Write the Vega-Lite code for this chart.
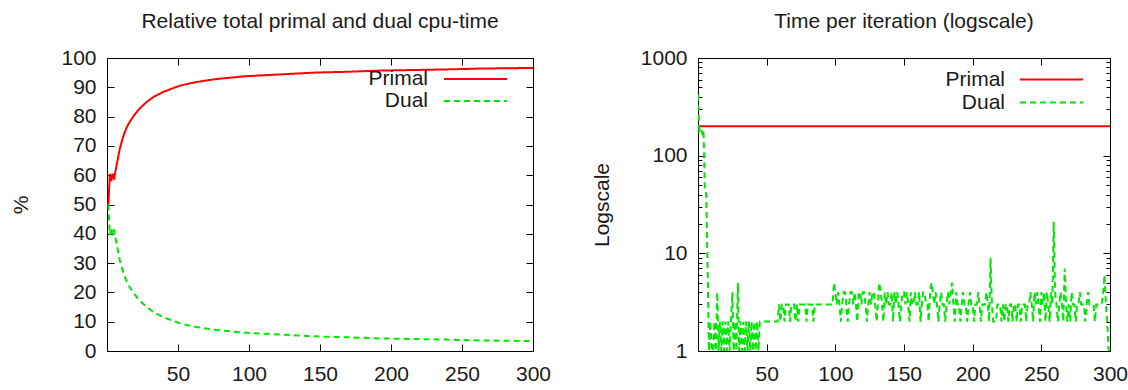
{
  "$schema": "https://vega.github.io/schema/vega-lite/v6.json",
  "background": "white",
  "padding": {"left": 10, "top": 10, "right": 0, "bottom": 0},
  "spacing": 38,
  "datasets": {
    "pct": [
      {"i":1,"primal":50,"dual":50},{"i":2,"primal":60.5,"dual":39.5},{"i":3,"primal":58,"dual":42},{"i":4,"primal":60.5,"dual":39.5},
      {"i":5,"primal":58.5,"dual":41.5},{"i":6,"primal":61.5,"dual":38.5},{"i":7,"primal":64,"dual":36},{"i":8,"primal":66.5,"dual":33.5},
      {"i":9,"primal":69,"dual":31},{"i":10,"primal":70.8,"dual":29.2},{"i":12,"primal":74,"dual":26},{"i":14,"primal":76.5,"dual":23.5},
      {"i":16,"primal":78.2,"dual":21.8},{"i":19,"primal":80.4,"dual":19.6},{"i":22,"primal":82.2,"dual":17.8},{"i":25,"primal":83.7,"dual":16.3},
      {"i":28,"primal":85,"dual":15},{"i":33,"primal":86.8,"dual":13.2},{"i":40,"primal":88.5,"dual":11.5},{"i":46,"primal":89.6,"dual":10.4},
      {"i":51,"primal":90.5,"dual":9.5},{"i":57,"primal":91.2,"dual":8.8},{"i":63,"primal":91.8,"dual":8.2},{"i":75,"primal":92.7,"dual":7.3},
      {"i":87,"primal":93.3,"dual":6.7},{"i":98,"primal":93.8,"dual":6.2},{"i":110,"primal":94.1,"dual":5.9},{"i":122,"primal":94.4,"dual":5.6},
      {"i":134,"primal":94.7,"dual":5.3},{"i":145,"primal":95.0,"dual":5.0},{"i":169,"primal":95.3,"dual":4.7},{"i":192,"primal":95.7,"dual":4.3},
      {"i":216,"primal":95.9,"dual":4.1},{"i":239,"primal":96.1,"dual":3.9},{"i":263,"primal":96.4,"dual":3.6},{"i":300,"primal":96.6,"dual":3.4}
    ],
    "iter": [
      {"i":0,"d":420},{"i":1,"p":200,"d":180},{"i":2,"p":200,"d":190},{"i":3,"p":200,"d":170},{"i":4,"p":200,"d":185},{"i":5,"p":200,"d":46},{"i":6,"p":200,"d":40},{"i":7,"p":200,"d":7},{"i":8,"p":200,"d":1},{"i":9,"p":200,"d":2},
      {"i":10,"p":200,"d":1},{"i":11,"p":200,"d":1},{"i":12,"p":200,"d":2},{"i":13,"p":200,"d":1},{"i":14,"p":200,"d":4},{"i":15,"p":200,"d":1},{"i":16,"p":200,"d":2},{"i":17,"p":200,"d":1},{"i":18,"p":200,"d":2},{"i":19,"p":200,"d":1},
      {"i":20,"p":200,"d":2},{"i":21,"p":200,"d":1},{"i":22,"p":200,"d":2},{"i":23,"p":200,"d":1},{"i":24,"p":200,"d":2},{"i":25,"p":200,"d":4},{"i":26,"p":200,"d":1},{"i":27,"p":200,"d":2},{"i":28,"p":200,"d":1},{"i":29,"p":200,"d":5},
      {"i":30,"p":200,"d":1},{"i":31,"p":200,"d":2},{"i":32,"p":200,"d":1},{"i":33,"p":200,"d":2},{"i":34,"p":200,"d":1},{"i":35,"p":200,"d":2},{"i":36,"p":200,"d":1},{"i":37,"p":200,"d":2},{"i":38,"p":200,"d":1},{"i":39,"p":200,"d":2},
      {"i":40,"p":200,"d":1},{"i":41,"p":200,"d":2},{"i":42,"p":200,"d":1},{"i":43,"p":200,"d":2},{"i":44,"p":200,"d":1},{"i":45,"p":200,"d":2},{"i":46,"p":200,"d":2},{"i":47,"p":200,"d":2},{"i":48,"p":200,"d":2},{"i":49,"p":200,"d":2},
      {"i":50,"p":200,"d":2},{"i":51,"p":200,"d":2},{"i":52,"p":200,"d":2},{"i":53,"p":200,"d":2},{"i":54,"p":200,"d":2},{"i":55,"p":200,"d":2},{"i":56,"p":200,"d":2},{"i":57,"p":200,"d":2},{"i":58,"p":200,"d":2},{"i":59,"p":200,"d":3},
      {"i":60,"p":200,"d":2},{"i":61,"p":200,"d":3},{"i":62,"p":200,"d":3},{"i":63,"p":200,"d":2},{"i":64,"p":200,"d":3},{"i":65,"p":200,"d":3},{"i":66,"p":200,"d":3},{"i":67,"p":200,"d":2},{"i":68,"p":200,"d":3},{"i":69,"p":200,"d":3},
      {"i":70,"p":200,"d":3},{"i":71,"p":200,"d":2},{"i":72,"p":200,"d":3},{"i":73,"p":200,"d":2},{"i":74,"p":200,"d":3},{"i":75,"p":200,"d":3},{"i":76,"p":200,"d":3},{"i":77,"p":200,"d":3},{"i":78,"p":200,"d":3},{"i":79,"p":200,"d":2},
      {"i":80,"p":200,"d":3},{"i":81,"p":200,"d":3},{"i":82,"p":200,"d":3},{"i":83,"p":200,"d":3},{"i":84,"p":200,"d":2},{"i":85,"p":200,"d":3},{"i":86,"p":200,"d":3},{"i":87,"p":200,"d":3},{"i":88,"p":200,"d":3},{"i":89,"p":200,"d":3},
      {"i":90,"p":200,"d":3},{"i":91,"p":200,"d":3},{"i":92,"p":200,"d":3},{"i":93,"p":200,"d":3},{"i":94,"p":200,"d":3},{"i":95,"p":200,"d":3},{"i":96,"p":200,"d":3},{"i":97,"p":200,"d":3},{"i":98,"p":200,"d":3},{"i":99,"p":200,"d":5},
      {"i":100,"p":200,"d":4},{"i":101,"p":200,"d":3},{"i":102,"p":200,"d":4},{"i":103,"p":200,"d":3},{"i":104,"p":200,"d":2},{"i":105,"p":200,"d":3},{"i":106,"p":200,"d":4},{"i":107,"p":200,"d":4},{"i":108,"p":200,"d":3},{"i":109,"p":200,"d":2},
      {"i":110,"p":200,"d":3},{"i":111,"p":200,"d":4},{"i":112,"p":200,"d":4},{"i":113,"p":200,"d":3},{"i":114,"p":200,"d":4},{"i":115,"p":200,"d":3},{"i":116,"p":200,"d":2},{"i":117,"p":200,"d":4},{"i":118,"p":200,"d":4},{"i":119,"p":200,"d":3},
      {"i":120,"p":200,"d":4},{"i":121,"p":200,"d":4},{"i":122,"p":200,"d":3},{"i":123,"p":200,"d":2},{"i":124,"p":200,"d":3},{"i":125,"p":200,"d":4},{"i":126,"p":200,"d":3},{"i":127,"p":200,"d":4},{"i":128,"p":200,"d":4},{"i":129,"p":200,"d":3},
      {"i":130,"p":200,"d":2},{"i":131,"p":200,"d":3},{"i":132,"p":200,"d":5},{"i":133,"p":200,"d":4},{"i":134,"p":200,"d":3},{"i":135,"p":200,"d":2},{"i":136,"p":200,"d":4},{"i":137,"p":200,"d":3},{"i":138,"p":200,"d":4},{"i":139,"p":200,"d":3},
      {"i":140,"p":200,"d":3},{"i":141,"p":200,"d":4},{"i":142,"p":200,"d":2},{"i":143,"p":200,"d":4},{"i":144,"p":200,"d":3},{"i":145,"p":200,"d":4},{"i":146,"p":200,"d":3},{"i":147,"p":200,"d":2},{"i":148,"p":200,"d":3},{"i":149,"p":200,"d":4},
      {"i":150,"p":200,"d":4},{"i":151,"p":200,"d":3},{"i":152,"p":200,"d":4},{"i":153,"p":200,"d":3},{"i":154,"p":200,"d":2},{"i":155,"p":200,"d":4},{"i":156,"p":200,"d":3},{"i":157,"p":200,"d":3},{"i":158,"p":200,"d":4},{"i":159,"p":200,"d":3},
      {"i":160,"p":200,"d":3},{"i":161,"p":200,"d":4},{"i":162,"p":200,"d":2},{"i":163,"p":200,"d":3},{"i":164,"p":200,"d":4},{"i":165,"p":200,"d":4},{"i":166,"p":200,"d":3},{"i":167,"p":200,"d":3},{"i":168,"p":200,"d":2},{"i":169,"p":200,"d":4},
      {"i":170,"p":200,"d":5},{"i":171,"p":200,"d":4},{"i":172,"p":200,"d":3},{"i":173,"p":200,"d":4},{"i":174,"p":200,"d":3},{"i":175,"p":200,"d":2},{"i":176,"p":200,"d":3},{"i":177,"p":200,"d":4},{"i":178,"p":200,"d":3},{"i":179,"p":200,"d":3},
      {"i":180,"p":200,"d":2},{"i":181,"p":200,"d":3},{"i":182,"p":200,"d":4},{"i":183,"p":200,"d":3},{"i":184,"p":200,"d":4},{"i":185,"p":200,"d":5},{"i":186,"p":200,"d":3},{"i":187,"p":200,"d":2},{"i":188,"p":200,"d":4},{"i":189,"p":200,"d":3},
      {"i":190,"p":200,"d":3},{"i":191,"p":200,"d":2},{"i":192,"p":200,"d":3},{"i":193,"p":200,"d":4},{"i":194,"p":200,"d":3},{"i":195,"p":200,"d":3},{"i":196,"p":200,"d":2},{"i":197,"p":200,"d":3},{"i":198,"p":200,"d":4},{"i":199,"p":200,"d":3},
      {"i":200,"p":200,"d":3},{"i":201,"p":200,"d":2},{"i":202,"p":200,"d":3},{"i":203,"p":200,"d":3},{"i":204,"p":200,"d":4},{"i":205,"p":200,"d":3},{"i":206,"p":200,"d":2},{"i":207,"p":200,"d":3},{"i":208,"p":200,"d":3},{"i":209,"p":200,"d":3},
      {"i":210,"p":200,"d":4},{"i":211,"p":200,"d":3},{"i":212,"p":200,"d":2},{"i":213,"p":200,"d":9},{"i":214,"p":200,"d":3},{"i":215,"p":200,"d":2},{"i":216,"p":200,"d":2},{"i":217,"p":200,"d":2},{"i":218,"p":200,"d":3},{"i":219,"p":200,"d":3},
      {"i":220,"p":200,"d":3},{"i":221,"p":200,"d":2},{"i":222,"p":200,"d":3},{"i":223,"p":200,"d":2},{"i":224,"p":200,"d":3},{"i":225,"p":200,"d":3},{"i":226,"p":200,"d":2},{"i":227,"p":200,"d":3},{"i":228,"p":200,"d":3},{"i":229,"p":200,"d":2},
      {"i":230,"p":200,"d":3},{"i":231,"p":200,"d":3},{"i":232,"p":200,"d":2},{"i":233,"p":200,"d":3},{"i":234,"p":200,"d":3},{"i":235,"p":200,"d":2},{"i":236,"p":200,"d":3},{"i":237,"p":200,"d":3},{"i":238,"p":200,"d":3},{"i":239,"p":200,"d":2},
      {"i":240,"p":200,"d":3},{"i":241,"p":200,"d":3},{"i":242,"p":200,"d":4},{"i":243,"p":200,"d":3},{"i":244,"p":200,"d":2},{"i":245,"p":200,"d":4},{"i":246,"p":200,"d":3},{"i":247,"p":200,"d":4},{"i":248,"p":200,"d":3},{"i":249,"p":200,"d":2},
      {"i":250,"p":200,"d":4},{"i":251,"p":200,"d":3},{"i":252,"p":200,"d":4},{"i":253,"p":200,"d":2},{"i":254,"p":200,"d":4},{"i":255,"p":200,"d":3},{"i":256,"p":200,"d":2},{"i":257,"p":200,"d":4},{"i":258,"p":200,"d":3},{"i":259,"p":200,"d":21},
      {"i":260,"p":200,"d":4},{"i":261,"p":200,"d":3},{"i":262,"p":200,"d":2},{"i":263,"p":200,"d":3},{"i":264,"p":200,"d":4},{"i":265,"p":200,"d":3},{"i":266,"p":200,"d":2},{"i":267,"p":200,"d":7},{"i":268,"p":200,"d":3},{"i":269,"p":200,"d":2},
      {"i":270,"p":200,"d":3},{"i":271,"p":200,"d":2},{"i":272,"p":200,"d":4},{"i":273,"p":200,"d":3},{"i":274,"p":200,"d":3},{"i":275,"p":200,"d":2},{"i":276,"p":200,"d":3},{"i":277,"p":200,"d":3},{"i":278,"p":200,"d":4},{"i":279,"p":200,"d":3},
      {"i":280,"p":200,"d":3},{"i":281,"p":200,"d":3},{"i":282,"p":200,"d":2},{"i":283,"p":200,"d":3},{"i":284,"p":200,"d":4},{"i":285,"p":200,"d":3},{"i":286,"p":200,"d":3},{"i":287,"p":200,"d":3},{"i":288,"p":200,"d":3},{"i":289,"p":200,"d":2},
      {"i":290,"p":200,"d":3},{"i":291,"p":200,"d":3},{"i":292,"p":200,"d":3},{"i":293,"p":200,"d":3},{"i":294,"p":200,"d":3},{"i":295,"p":200,"d":4},{"i":296,"p":200,"d":6},{"i":297,"p":200,"d":3},{"i":298,"p":200,"d":2},{"i":299,"p":200,"d":1},
      {"i":300,"p":200,"d":1}
    ]
  },
  "hconcat": [
    {
      "title": {"text": "Relative total primal and dual cpu-time", "offset": 15},
      "width": 426,
      "height": 293,
      "data": {"name": "pct"},
      "layer": [
        {
          "mark": {"type": "line", "strokeWidth": 2, "clip": true},
          "encoding": {
            "x": {"field": "i", "type": "quantitative", "scale": {"domain": [0, 300], "nice": false, "zero": false},
                  "axis": {"orient": "bottom", "title": null, "values": [50, 100, 150, 200, 250, 300], "tickSize": -7, "labelPadding": 19, "labelFlush": false}},
            "y": {"field": "primal", "type": "quantitative", "scale": {"domain": [0, 100], "nice": false, "zero": false},
                  "axis": {"orient": "left", "title": "%", "values": [0,10,20,30,40,50,60,70,80,90,100], "tickSize": -7, "labelPadding": 18, "titlePadding": 29, "labelFlush": false}},
            "color": {"datum": "Primal", "scale": {"domain": ["Primal", "Dual"], "range": ["#ff0000", "#00e600"]},
                      "legend": {"orient": "none", "legendX": 357, "legendY": 9.5, "title": null, "symbolType": "M-3,0L3,0", "symbolSize": 441, "symbolStrokeWidth": 2, "labelAlign": "right", "labelOffset": -59, "rowPadding": 0, "padding": 0}},
            "strokeDash": {"datum": "Primal", "scale": {"domain": ["Primal", "Dual"], "range": [[1, 0], [6, 4]]},
                      "legend": {"orient": "none", "legendX": 357, "legendY": 9.5, "title": null, "symbolType": "M-3,0L3,0", "symbolSize": 441, "symbolStrokeWidth": 2, "labelAlign": "right", "labelOffset": -59, "rowPadding": 0, "padding": 0}}
          }
        },
        {
          "mark": {"type": "line", "strokeWidth": 2, "clip": true},
          "encoding": {
            "x": {"field": "i", "type": "quantitative", "scale": {"domain": [0, 300], "nice": false, "zero": false},
                  "axis": {"orient": "top", "title": null, "labels": false, "values": [50, 100, 150, 200, 250, 300], "tickSize": -7}},
            "y": {"field": "dual", "type": "quantitative", "scale": {"domain": [0, 100], "nice": false, "zero": false},
                  "axis": {"orient": "right", "title": null, "labels": false, "values": [0,10,20,30,40,50,60,70,80,90,100], "tickSize": -7}},
            "color": {"datum": "Dual"},
            "strokeDash": {"datum": "Dual"}
          }
        }
      ],
      "resolve": {"axis": {"x": "independent", "y": "independent"}}
    },
    {
      "title": {"text": "Time per iteration (logscale)", "offset": 15},
      "width": 412,
      "height": 293,
      "data": {"name": "iter"},
      "layer": [
        {
          "mark": {"type": "line", "strokeWidth": 2, "clip": true},
          "encoding": {
            "x": {"field": "i", "type": "quantitative", "scale": {"domain": [0, 300], "nice": false, "zero": false},
                  "axis": {"orient": "bottom", "title": null, "values": [50, 100, 150, 200, 250, 300], "tickSize": -7, "labelPadding": 19, "labelFlush": false}},
            "y": {"field": "p", "type": "quantitative", "scale": {"type": "log", "domain": [1, 1000], "nice": false},
                  "axis": {"orient": "left", "title": "Logscale", "format": "d", "labelOverlap": false, "labelFlush": false,
                           "values": [1,2,3,4,5,6,7,8,9,10,20,30,40,50,60,70,80,90,100,200,300,400,500,600,700,800,900,1000],
                           "labelExpr": "indexof([1,10,100,1000], datum.value) >= 0 ? datum.label : ''",
                           "tickSize": {"condition": {"test": "indexof([1,10,100,1000], datum.value) >= 0", "value": -7}, "value": -4},
                           "labelPadding": 18, "titlePadding": 28}},
            "color": {"datum": "Primal", "scale": {"domain": ["Primal", "Dual"], "range": ["#ff0000", "#00e600"]},
                      "legend": {"orient": "none", "legendX": 342, "legendY": 10, "title": null, "symbolType": "M-3,0L3,0", "symbolSize": 441, "symbolStrokeWidth": 2, "labelAlign": "right", "labelOffset": -58, "rowPadding": 1, "padding": 0}},
            "strokeDash": {"datum": "Primal", "scale": {"domain": ["Primal", "Dual"], "range": [[1, 0], [6, 4]]},
                      "legend": {"orient": "none", "legendX": 342, "legendY": 10, "title": null, "symbolType": "M-3,0L3,0", "symbolSize": 441, "symbolStrokeWidth": 2, "labelAlign": "right", "labelOffset": -58, "rowPadding": 1, "padding": 0}}
          }
        },
        {
          "mark": {"type": "line", "strokeWidth": 2, "clip": true},
          "encoding": {
            "x": {"field": "i", "type": "quantitative", "scale": {"domain": [0, 300], "nice": false, "zero": false},
                  "axis": {"orient": "top", "title": null, "labels": false, "values": [50, 100, 150, 200, 250, 300], "tickSize": -7}},
            "y": {"field": "d", "type": "quantitative", "scale": {"type": "log", "domain": [1, 1000], "nice": false},
                  "axis": {"orient": "right", "title": null, "labels": false,
                           "values": [1,2,3,4,5,6,7,8,9,10,20,30,40,50,60,70,80,90,100,200,300,400,500,600,700,800,900,1000],
                           "tickSize": {"condition": {"test": "indexof([1,10,100,1000], datum.value) >= 0", "value": -7}, "value": -4}}},
            "color": {"datum": "Dual"},
            "strokeDash": {"datum": "Dual"}
          }
        }
      ],
      "resolve": {"axis": {"x": "independent", "y": "independent"}}
    }
  ],
  "resolve": {"scale": {"color": "independent", "strokeDash": "independent"}, "legend": {"color": "independent", "strokeDash": "independent"}},
  "config": {
    "font": "Liberation Sans",
    "view": {"stroke": "#000000", "strokeWidth": 1},
    "axis": {"domain": false, "grid": false, "labelFontSize": 21, "labelColor": "#1a1a1a", "titleFontSize": 21, "titleFontWeight": "normal", "titleColor": "#1a1a1a", "tickColor": "#000000", "tickWidth": 1},
    "title": {"fontSize": 21, "fontWeight": "normal", "color": "#1a1a1a", "anchor": "middle"},
    "legend": {"labelFontSize": 21, "labelColor": "#1a1a1a"}
  }
}
